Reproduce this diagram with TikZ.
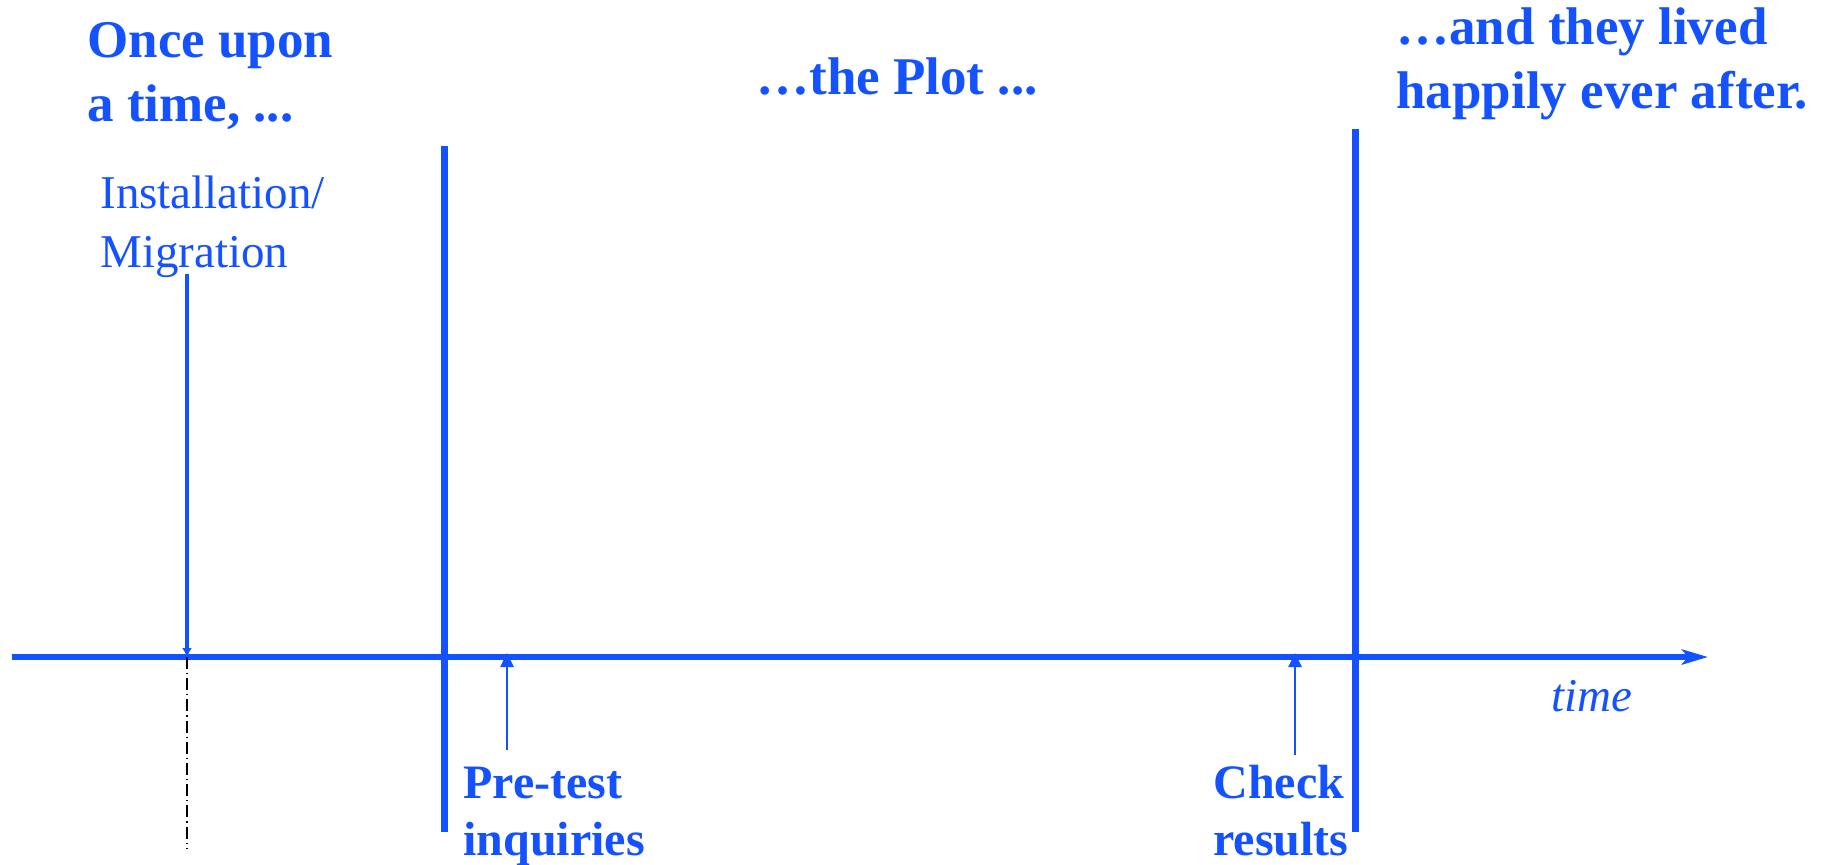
\documentclass[tikz,border=0pt]{standalone}
\usepackage{fontspec}
\setmainfont{Liberation Serif}
\usetikzlibrary{arrows.meta}
\definecolor{storyblue}{RGB}{20,82,255}

\begin{document}
\begin{tikzpicture}[x=0.5pt,y=-0.5pt,
    every node/.style={text=storyblue,inner sep=0pt,anchor=base west,align=left},
    headline/.style={font=\fontsize{26.5}{32}\selectfont\bfseries},
    eventtext/.style={font=\fontsize{24}{28.5}\selectfont\bfseries},
    phase/.style={storyblue,line width=3.5pt},
    pointer/.style={storyblue,line width=1.3pt,-{Triangle[width=6.5pt,length=7pt]}}]
    \useasboundingbox (0,0) rectangle (1829,864);
    % time axis
    \coordinate (t0) at (12,657);
    \coordinate (t1) at (1708,657);
    \draw[storyblue,line width=2.6pt,-{Stealth[length=13pt,width=7.5pt,inset=3pt]}] (t0) -- (t1);
    \node[font=\fontsize{23.5}{28}\selectfont\itshape] (time) at (1551,711) {time};
    % beginning (base anchor = last line)
    \node[headline] (once) at (87,121) {Once upon\\a time, ...};
    \node[font=\fontsize{23.5}{29.5}\selectfont] (inst) at (100,267) {Installation/\\Migration};
    \coordinate (instTop) at (187,274);
    \coordinate (instAxis) at (187,657);
    \coordinate (instEnd) at (187,848);
    \draw[storyblue,line width=2.1pt,-{Latex[length=4.5pt,width=5pt]}] (instTop) -- (instAxis);
    \draw[black,line width=0.8pt,dash pattern=on 6pt off 2pt on 0.6pt off 2pt] (instAxis) -- (instEnd);
    % plot
    \coordinate (p0) at (444,146);
    \coordinate (p1) at (444,832);
    \draw[phase] (p0) -- (p1);
    \node[headline] (plot) at (756,94) {…the Plot ...};
    \node[eventtext] (pre) at (463,855) {Pre-test\\inquiries};
    \coordinate (preFoot) at (507,750);
    \coordinate (preTip) at (507,653);
    \draw[pointer] (preFoot) -- (preTip);
    \node[eventtext] (check) at (1213,855) {Check\\results};
    \coordinate (checkFoot) at (1295,755);
    \coordinate (checkTip) at (1295,653);
    \draw[pointer] (checkFoot) -- (checkTip);
    % ending
    \coordinate (e0) at (1355,129);
    \coordinate (e1) at (1355,832);
    \draw[phase] (e0) -- (e1);
    \node[headline] (end) at (1396,108) {…and they lived\\happily ever after.};
\end{tikzpicture}
\end{document}
